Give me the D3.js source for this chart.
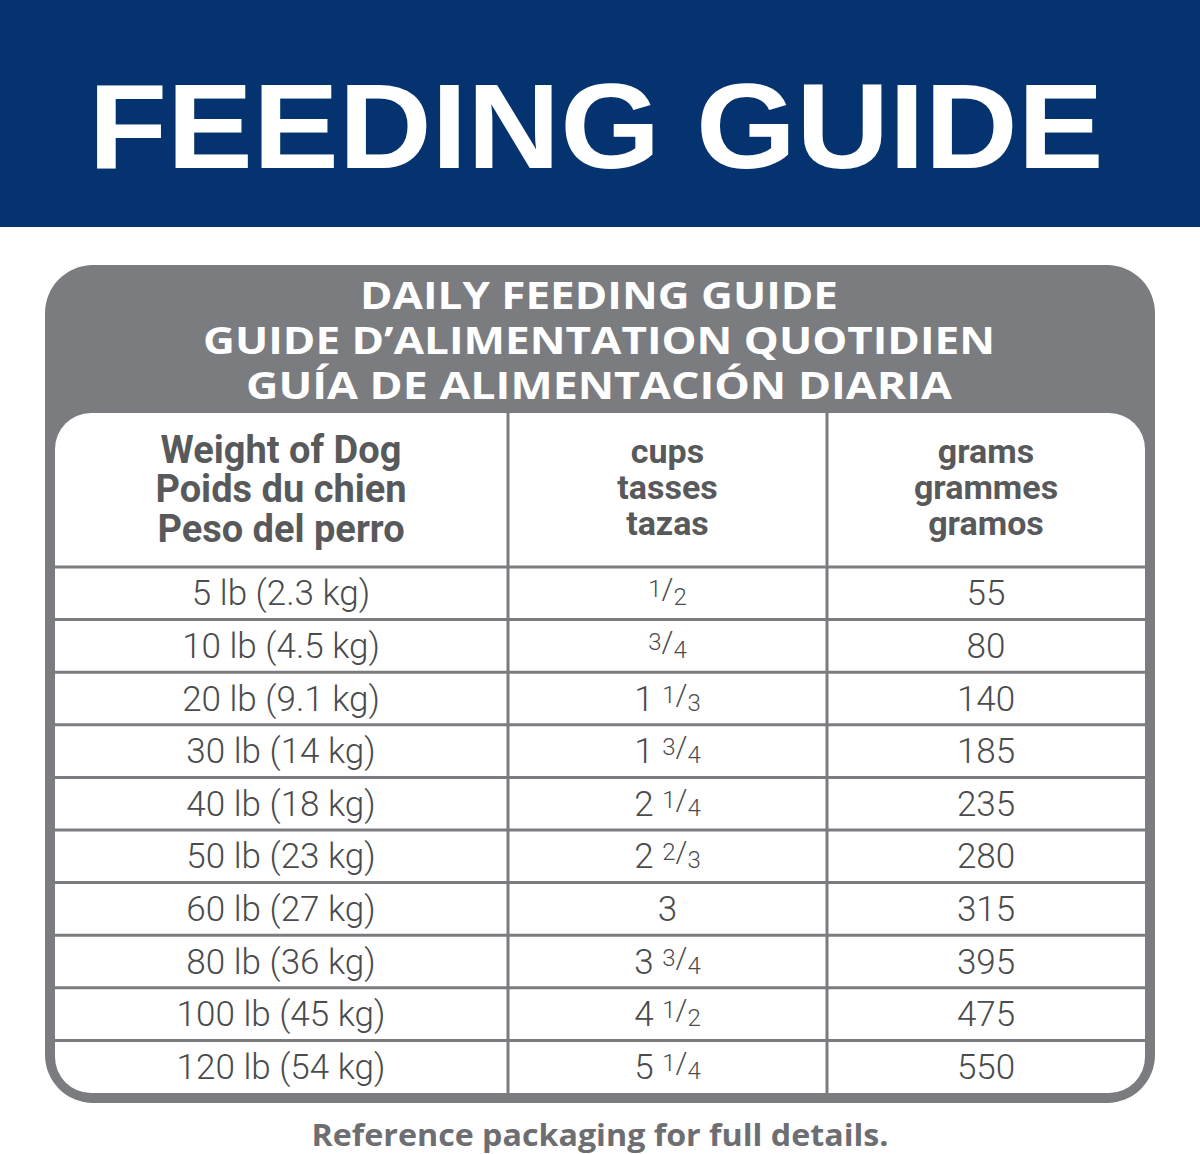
<!DOCTYPE html>
<html><head><meta charset="utf-8">
<script src="https://cdn.jsdelivr.net/npm/d3@7"></script>
<style>body{margin:0;background:#fff}</style></head>
<body><svg id="c" width="1200" height="1154"></svg>
<script>
const titleLines = ["DAILY FEEDING GUIDE","GUIDE D\u2019ALIMENTATION QUOTIDIEN","GU\u00cdA DE ALIMENTACI\u00d3N DIARIA"];
const headers = [["Weight of Dog","Poids du chien","Peso del perro"],["cups","tasses","tazas"],["grams","grammes","gramos"]];
const weights = ["5 lb (2.3 kg)","10 lb (4.5 kg)","20 lb (9.1 kg)","30 lb (14 kg)","40 lb (18 kg)","50 lb (23 kg)","60 lb (27 kg)","80 lb (36 kg)","100 lb (45 kg)","120 lb (54 kg)"];
const cupsWhole = ["","","1","1","2","2","3","3","4","5"];
const cupsFrac = ["1/2","3/4","1/3","3/4","1/4","2/3","","3/4","1/2","1/4"];
const grams = [55,80,140,185,235,280,315,395,475,550];

const svg = d3.select("#c");
svg.append("rect").attr("x",0).attr("y",0).attr("width",1200).attr("height",227).attr("fill","#043370");
svg.append("text").attr("x",596).attr("y",168).attr("text-anchor","middle")
  .attr("font-family","Liberation Sans, Arial").attr("font-weight",900).attr("font-size",120)
  .attr("fill","#fff").attr("textLength",1015).attr("lengthAdjust","spacingAndGlyphs").text("FEEDING GUIDE");

svg.append("rect").attr("x",45).attr("y",265).attr("width",1110).attr("height",838).attr("rx",48).attr("fill","#7a7c7f");
const tx=[[360,838],[203,995],[246,952]];
titleLines.forEach((t,i)=>svg.append("text").attr("x",599).attr("y",309+i*45).attr("text-anchor","middle")
  .attr("font-family","Open Sans").attr("font-weight",700).attr("font-size",37).attr("fill","#fff")
  .attr("textLength",tx[i][1]-tx[i][0]).attr("lengthAdjust","spacingAndGlyphs").text(t));

svg.append("rect").attr("x",55).attr("y",413).attr("width",1090).attr("height",680).attr("rx",36).attr("fill","#fff");

const cols=[55,508,827,1145];
const colX = i=>(cols[i]+cols[i+1])/2;
const y = d3.scaleBand().domain(d3.range(weights.length)).range([567,1093]);
const g = svg.append("g");
g.selectAll("line.r").data(d3.range(weights.length)).join("line")
  .attr("x1",55).attr("x2",1145).attr("y1",d=>y(d)).attr("y2",d=>y(d)).attr("stroke","#7a7c7f").attr("stroke-width",3);
[508,827].forEach(x=>g.append("line").attr("x1",x).attr("x2",x).attr("y1",413).attr("y2",1093).attr("stroke","#7a7c7f").attr("stroke-width",3));

const hdrY=[[463,502,542],[463,499,535],[463,499,535]];
headers.forEach((h,c)=>h.forEach((t,j)=>{const x=c==0?281:colX(c);
  g.append("text").attr("x",x).attr("y",hdrY[c][j])
  .attr("text-anchor","middle").attr("font-family","Roboto").attr("font-weight",700)
  .attr("font-size",c==0?38:34).attr("fill","#58595b").text(t);}));

const cell = (sel)=>sel.attr("font-family","Roboto").attr("font-weight",300).attr("font-size",35).attr("fill","#4a4b4d").attr("text-anchor","middle");
weights.forEach((w,i)=>{
  const cy=y(i)+y.bandwidth()/2+12;
  cell(g.append("text").attr("x",281).attr("y",cy)).text(w);
  const t=cell(g.append("text").attr("x",colX(1)).attr("y",cy));
  if(cupsWhole[i]) t.append("tspan").text(cupsWhole[i]+(cupsFrac[i]?" ":""));
  if(cupsFrac[i]){const [n,d]=cupsFrac[i].split("/");
    t.append("tspan").attr("font-size",24).attr("dy",-8).text(n);
    t.append("tspan").attr("font-size",30).attr("dy",2).text("/");
    t.append("tspan").attr("font-size",24).attr("dy",6).text(d);}
  cell(g.append("text").attr("x",colX(2)).attr("y",cy)).text(grams[i]);
});

svg.append("text").attr("x",600).attr("y",1146).attr("text-anchor","middle").attr("font-family","Open Sans")
  .attr("font-weight",700).attr("font-size",30).attr("fill","#6d6e71")
  .attr("textLength",577).attr("lengthAdjust","spacingAndGlyphs").text("Reference packaging for full details.");
</script></body></html>
